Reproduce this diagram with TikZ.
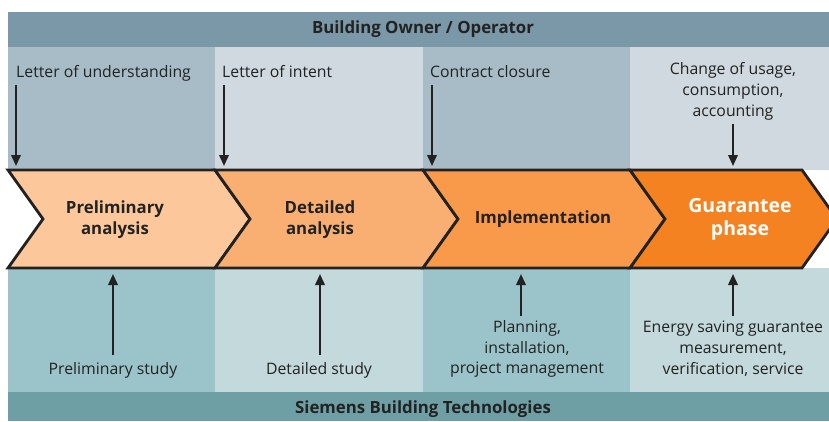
\documentclass[tikz,border=0pt]{standalone}
\usepackage{fontspec}
\setmainfont{Open Sans}
\usetikzlibrary{arrows.meta}
\definecolor{topbanner}{HTML}{7A98A8}
\definecolor{topdark}{HTML}{A7BCC7}
\definecolor{toplight}{HTML}{D0D9DF}
\definecolor{botdark}{HTML}{9AC4CA}
\definecolor{botlight}{HTML}{C3D9DC}
\definecolor{botbanner}{HTML}{6E9FA4}
\definecolor{chA}{HTML}{FCC89B}
\definecolor{chB}{HTML}{F9AF72}
\definecolor{chC}{HTML}{F9994A}
\definecolor{chD}{HTML}{F58220}
\definecolor{txt}{HTML}{222222}
\begin{document}
\begin{tikzpicture}[x=1pt,y=-1pt,
  lab/.style={font=\fontsize{15.8}{20.8}\selectfont, text=txt, inner sep=0pt, align=center},
  bannerlab/.style={font=\fontsize{16.8}{20}\selectfont\bfseries, text=txt, inner sep=0pt},
  chevlab/.style={font=\fontsize{16.8}{20.5}\selectfont\bfseries, text=txt, inner sep=0pt, align=center},
  chevbox/.style={draw=txt, line width=2.8pt, line join=miter, miter limit=10},
  arr/.style={-{Triangle[length=11pt,width=9.5pt]}, line width=2pt, draw=txt}]
\useasboundingbox (0,0) rectangle (829,421);
\clip (0,0) rectangle (829,421);
% banners and columns
\fill[topbanner] (8,12) rectangle (829,47);
\fill[topdark] (8,47) rectangle (215,170);
\fill[toplight] (215,47) rectangle (423,170);
\fill[topdark] (423,47) rectangle (630,170);
\fill[toplight] (630,47) rectangle (829,170);
\fill[botdark] (8,268) rectangle (215,392);
\fill[botlight] (215,268) rectangle (423,392);
\fill[botdark] (423,268) rectangle (630,392);
\fill[botlight] (630,268) rectangle (829,392);
\fill[botbanner] (8,392) rectangle (829,421);
\node[bannerlab] (owner) at (423,29.5) {Building Owner / Operator};
\node[bannerlab] (siemens) at (423,409.5) {Siemens Building Technologies};
% chevrons
\draw[chevbox, fill=chA] (8,170) -- (215,170) -- (250,219) -- (215,268) -- (8,268) -- (43,219) -- cycle;
\draw[chevbox, fill=chB] (215,170) -- (423,170) -- (458,219) -- (423,268) -- (215,268) -- (250,219) -- cycle;
\draw[chevbox, fill=chC] (423,170) -- (630,170) -- (665,219) -- (630,268) -- (423,268) -- (458,219) -- cycle;
\draw[chevbox, fill=chD] (630,170) -- (802,170) -- (837,219) -- (802,268) -- (630,268) -- (665,219) -- cycle;
\node[chevlab] (c1) at (115,219.5) {Preliminary\\analysis};
\node[chevlab] (c2) at (320,219.5) {Detailed\\analysis};
\node[chevlab] (c3) at (543,219) {Implementation};
\node[chevlab, font=\fontsize{19.5}{23}\selectfont\bfseries, text=white] (c4) at (740,219) {Guarantee\\phase};
% top labels
\node[lab, anchor=base west] (t1) at (16,77) {Letter of understanding};
\node[lab, anchor=base west] (t2) at (222,77) {Letter of intent};
\node[lab, anchor=base west] (t3) at (430,77) {Contract closure};
\node[lab] (t4) at (733,91.5) {Change of usage,\\consumption,\\accounting};
% bottom labels
\node[lab] (b1) at (113,370) {Preliminary study};
\node[lab] (b2) at (319,370) {Detailed study};
\node[lab] (b3) at (527,349) {Planning,\\installation,\\project management};
\node[lab] (b4) at (733,349) {Energy saving guarantee\\measurement,\\verification, service};
% arrow end points
\coordinate (t1s) at (16,85);   \coordinate (t1e) at (16,166);
\coordinate (t2s) at (224,85);  \coordinate (t2e) at (224,166);
\coordinate (t3s) at (432,85);  \coordinate (t3e) at (432,166);
\coordinate (t4s) at (733,124); \coordinate (t4e) at (733,166);
\coordinate (b1s) at (113,355); \coordinate (b1e) at (113,274);
\coordinate (b2s) at (320,355); \coordinate (b2e) at (320,274);
\coordinate (b3s) at (521,316); \coordinate (b3e) at (521,274);
\coordinate (b4s) at (733,316); \coordinate (b4e) at (733,274);
\foreach \a in {t1,t2,t3,t4,b1,b2,b3,b4} \draw[arr] (\a s) -- (\a e);
\end{tikzpicture}
\end{document}
